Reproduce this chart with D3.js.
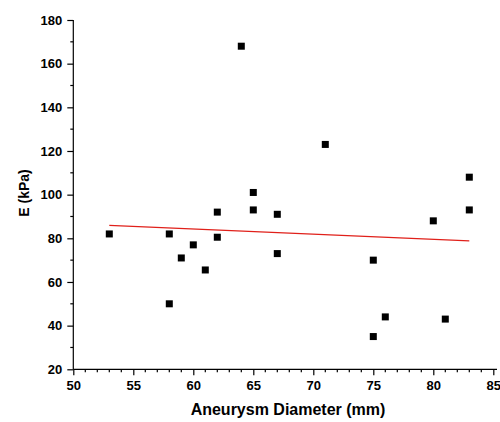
<!DOCTYPE html>
<html>
<head>
<meta charset="utf-8">
<script src="https://cdn.jsdelivr.net/npm/d3@7"></script>
<style>
  html, body { margin: 0; padding: 0; background: #fff; }
  svg { display: block; }
  text { font-family: "Liberation Sans", Arial, sans-serif; font-weight: bold; fill: #000; }
</style>
</head>
<body>
<svg id="chart" width="500" height="422"></svg>
<script>
// Aneurysm diameter (mm) vs. elastic modulus E (kPa)
const diameter = [53, 58, 58, 59, 60, 61, 62, 62, 64, 65, 65, 67, 67, 71, 75, 75, 76, 80, 81, 83, 83];
const modulus  = [82, 82, 50, 71, 77, 65.5, 92, 80.5, 168, 101, 93, 91, 73, 123, 70, 35, 44, 88, 43, 108, 93];

// Linear fit shown as a red line
const fitX = [53, 83];
const fitY = [85.9, 78.8];

const xTicks = [50, 55, 60, 65, 70, 75, 80, 85];
const yTicks = [20, 40, 60, 80, 100, 120, 140, 160, 180];

const svg = d3.select("#chart");
const x = d3.scaleLinear().domain([50, 85]).range([73.3, 493.3]);
const y = d3.scaleLinear().domain([20, 180]).range([369.3, 20]);

// minor ticks
const xMinor = d3.range(50, 86, 1).filter(v => v % 5 !== 0);
const yMinor = d3.range(30, 180, 20);

const gx = svg.append("g").attr("transform", `translate(0,${y(20)})`);
gx.append("line").attr("x1", x(50)).attr("x2", 497).attr("stroke", "#000").attr("stroke-width", 1.3);
gx.call(g => g.selectAll(".minor").data(xMinor).join("line")
  .attr("x1", d => x(d)).attr("x2", d => x(d)).attr("y1", 0).attr("y2", 3)
  .attr("stroke", "#000").attr("stroke-width", 1));
gx.call(d3.axisBottom(x).tickValues(xTicks).tickSize(6).tickPadding(5).tickFormat(d3.format("d")))
  .call(g => g.select(".domain").remove())
  .call(g => g.selectAll("line").attr("stroke-width", 1.2))
  .call(g => g.selectAll("text").attr("font-size", 13).attr("font-family", "Liberation Sans, Arial, sans-serif").attr("font-weight", "bold").attr("dy", "0.75em"));

const gy = svg.append("g").attr("transform", `translate(${x(50)},0)`);
gy.append("line").attr("y1", y(20)).attr("y2", y(180)).attr("stroke", "#000").attr("stroke-width", 1.3);
gy.call(g => g.selectAll(".minor").data(yMinor).join("line")
  .attr("y1", d => y(d)).attr("y2", d => y(d)).attr("x1", 0).attr("x2", -3)
  .attr("stroke", "#000").attr("stroke-width", 1));
gy.call(d3.axisLeft(y).tickValues(yTicks).tickSize(6).tickPadding(5).tickFormat(d3.format("d")))
  .call(g => g.select(".domain").remove())
  .call(g => g.selectAll("line").attr("stroke-width", 1.2))
  .call(g => g.selectAll("text").attr("font-size", 13).attr("font-family", "Liberation Sans, Arial, sans-serif").attr("font-weight", "bold"));

// fit line
svg.append("line")
  .attr("x1", x(fitX[0])).attr("y1", y(fitY[0]))
  .attr("x2", x(fitX[1])).attr("y2", y(fitY[1]))
  .attr("stroke", "#e0201a").attr("stroke-width", 1.2);

// data points
const s = 7;
svg.append("g").selectAll("rect").data(diameter.map((d, i) => [d, modulus[i]])).join("rect")
  .attr("x", d => x(d[0]) - s / 2).attr("y", d => y(d[1]) - s / 2)
  .attr("width", s).attr("height", s).attr("fill", "#000");

// axis titles
svg.append("text").attr("x", 288).attr("y", 415).attr("text-anchor", "middle")
  .attr("font-size", 16).text("Aneurysm Diameter (mm)");
svg.append("text").attr("transform", "translate(29,193) rotate(-90)").attr("text-anchor", "middle")
  .attr("font-size", 14).text("E (kPa)");
</script>
</body>
</html>
